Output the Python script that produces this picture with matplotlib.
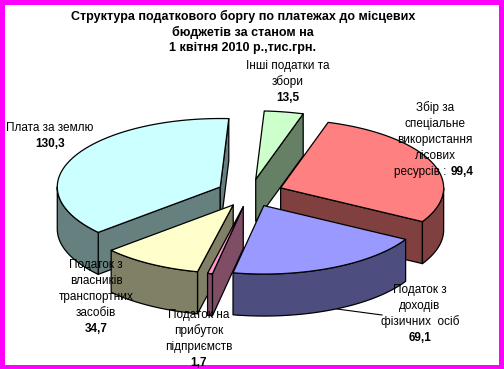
import matplotlib
matplotlib.use("Agg")
import matplotlib.pyplot as plt
import numpy as np
from matplotlib.patches import Polygon

plt.rcParams["font.family"] = ["Liberation Sans", "DejaVu Sans"]

# Slices clockwise, as in the source chart
names = ["Інші податки та збори", "Збір за спеціальне використання лісових ресурсів",
         "Податок з доходів фізичних осіб", "Податок на прибуток підприємств",
         "Податок з власників транспортних засобів", "Плата за землю"]
values = [13.5, 99.4, 69.1, 1.7, 34.7, 130.3]
value_labels = ["13,5", "99,4", "69,1", "1,7", "34,7", "130,3"]
top_colours = ["#CCFFCC", "#FF8080", "#9999FF", "#FF99CC", "#FFFFCC", "#CCFFFF"]
side_colours = ["#668066", "#804040", "#4D4D80", "#804D66", "#808066", "#668080"]

START_ANGLE = 3.0
CX, CY = 250, 193
RADIUS = 163
SQUASH = 0.42
EXPLODE = 33
DEPTH = 42
EDGE = dict(edgecolor="black", linewidth=0.9, joinstyle="round")


def project(angle, r, ox, oy):
    """Clockwise-from-north angle (deg) on the tilted disc to pixel coordinates."""
    a = np.radians(angle)
    return ox + r * np.sin(a), oy - r * np.cos(a) * SQUASH


def draw_slice(ax, a0, a1, top, side):
    mid = (a0 + a1) / 2
    ox, oy = project(mid, EXPLODE, CX, CY)
    # radial walls: only those facing the viewer
    if np.sin(np.radians(a0)) < 0:
        x, y = project(a0, RADIUS, ox, oy)
        ax.add_patch(Polygon([(ox, oy), (x, y), (x, y + DEPTH), (ox, oy + DEPTH)],
                             facecolor=side, **EDGE))
    if np.sin(np.radians(a1)) > 0:
        x, y = project(a1, RADIUS, ox, oy)
        ax.add_patch(Polygon([(ox, oy), (x, y), (x, y + DEPTH), (ox, oy + DEPTH)],
                             facecolor=side, **EDGE))
    # outer wall: front half of the rim only
    lo, hi = max(a0, 90), min(a1, 270)
    if lo < hi:
        ts = np.linspace(lo, hi, 40)
        xs, ys = project(ts, RADIUS, ox, oy)
        pts = list(zip(xs, ys)) + list(zip(xs[::-1], ys[::-1] + DEPTH))
        ax.add_patch(Polygon(pts, facecolor=side, **EDGE))
    ts = np.linspace(a0, a1, 80)
    xs, ys = project(ts, RADIUS, ox, oy)
    ax.add_patch(Polygon([(ox, oy)] + list(zip(xs, ys)), facecolor=top, **EDGE))


fig = plt.figure(figsize=(5.04, 3.69), dpi=100, facecolor="#FF00FF")
ax = fig.add_axes([5 / 504, 4 / 369, 494 / 504, 360 / 369])
ax.set_xlim(5, 499)
ax.set_ylim(365, 5)
ax.set_facecolor("white")
ax.set_xticks([])
ax.set_yticks([])
for spine in ax.spines.values():
    spine.set_visible(False)

edges = START_ANGLE + np.concatenate([[0], np.cumsum(values)]) / sum(values) * 360
mids = (edges[:-1] + edges[1:]) / 2
# far slices first
for i in np.argsort(-np.cos(np.radians(mids))):
    draw_slice(ax, edges[i], edges[i + 1], top_colours[i], side_colours[i])

# leader line of the blue slice
ax.plot([337, 382], [309, 315], color="black", lw=0.8)

TXT = dict(ha="center", va="center", fontsize=8.5, color="black")
BOLD = dict(ha="center", va="center", fontsize=8.5, color="black", fontweight="bold")

title_lines = ["Структура податкового боргу по платежах до місцевих",
               "бюджетів за станом на", "1 квітня 2010 р.,тис.грн."]
for line, y in zip(title_lines, [16, 32, 48]):
    ax.text(243, y, line, ha="center", va="center", fontsize=9, fontweight="bold")

for lines, x, y0, val in [
    (["Інші податки та", "збори"], 288, 66, value_labels[0]),
    (["Податок з", "доходів", "фізичних  осіб"], 420, 290, value_labels[2]),
    (["Податок на", "прибуток", "підприємств"], 199, 315, value_labels[3]),
    (["Податок з", "власників", "транспортних", "засобів"], 96, 265, value_labels[4]),
    (["Плата за землю"], 50, 128, value_labels[5]),
]:
    for k, line in enumerate(lines):
        ax.text(x, y0 + 16 * k, line, **TXT)
    ax.text(x, y0 + 16 * len(lines), val, **BOLD)

for k, line in enumerate(["Збір за", "спеціальне", "використання", "лісових"]):
    ax.text(435, 108 + 16 * k, line, **TXT)
ax.text(446, 172, "ресурсів :", ha="right", va="center", fontsize=8.5)
ax.text(451, 172, value_labels[1], ha="left", va="center", fontsize=8.5, fontweight="bold")

fig.savefig("out.png", dpi=100, facecolor=fig.get_facecolor())
plt.close(fig)
